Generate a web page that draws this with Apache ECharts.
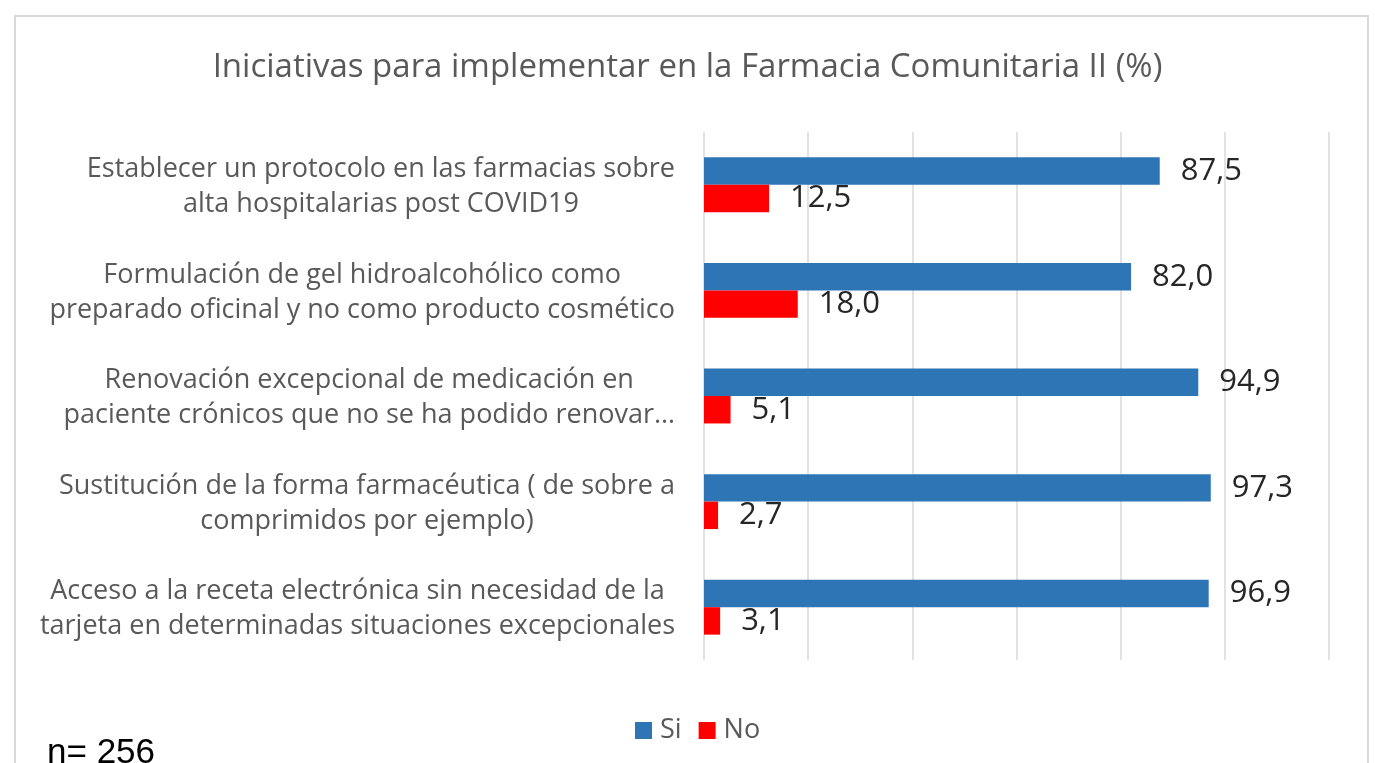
<!DOCTYPE html>
<html><head><meta charset="utf-8">
<script src="https://cdn.jsdelivr.net/npm/echarts@6/dist/echarts.min.js"></script>
<style>html,body{margin:0;padding:0;background:#fff;}#c{width:1375px;height:763px;}</style>
</head><body><div id="c"></div>
<script>
const categories = [
  "Establecer un protocolo en las farmacias sobre\nalta hospitalarias post COVID19",
  "Formulación de gel hidroalcohólico como\npreparado oficinal y no como producto cosmético",
  "Renovación excepcional de medicación en\npaciente crónicos que no se ha podido renovar…",
  "Sustitución de la forma farmacéutica ( de sobre a\ncomprimidos por ejemplo)",
  "Acceso a la receta electrónica sin necesidad de la\ntarjeta en determinadas situaciones excepcionales"
];
const siValues = [87.5, 82.0, 94.9, 97.3, 96.9];
const noValues = [12.5, 18.0, 5.1, 2.7, 3.1];
const seriesNames = ["Si", "No"];

const chart = echarts.init(document.getElementById('c'), null, {renderer: 'canvas'});
const fmt = p => p.value.toFixed(1).replace('.', ',');
const labelFont = '"Open Sans", "Noto Sans", sans-serif';
chart.setOption({
  animation: false,
  backgroundColor: '#fff',
  title: [{
    text: 'Iniciativas para implementar en la Farmacia Comunitaria II (%)',
    left: 'center', top: 46,
    textStyle: {fontFamily: labelFont, fontSize: 33, fontWeight: 'normal', color: '#595959'}
  }, {
    text: 'n= 256', left: 42, top: 731,
    textStyle: {fontFamily: '"Liberation Sans", Arial, sans-serif', fontSize: 35, fontWeight: 'normal', color: '#000'}
  }],
  graphic: [{
    type: 'rect', shape: {x: 15, y: 16, width: 1353, height: 800},
    style: {fill: 'none', stroke: '#d9d9d9', lineWidth: 2}, z: -1
  }],
  legend: {
    data: seriesNames, left: 630, top: 712, itemWidth: 17, itemHeight: 17, itemGap: 17,
    icon: 'rect',
    textStyle: {fontFamily: labelFont, fontSize: 27, color: '#595959', padding: [0,0,0,3]}
  },
  grid: {left: 704, right: 46, top: 132, bottom: 103, containLabel: false},
  xAxis: {
    type: 'value', min: 0, max: 120, interval: 20,
    axisLabel: {show: false}, axisLine: {show: false}, axisTick: {show: false},
    splitLine: {lineStyle: {color: '#d9d9d9', width: 1.5}}
  },
  yAxis: {
    type: 'category', data: categories, inverse: true,
    axisLine: {show: false}, axisTick: {show: false},
    axisLabel: {
      margin: 29, align: 'right', padding: [4, 0, 0, 0],
      formatter: v => v.split('\n').map(s => '{a|' + s + '}').join('\n'),
      rich: {a: {align: 'center', fontFamily: labelFont, fontSize: 27, lineHeight: 35, color: '#595959'}}
    }
  },
  series: [{
    name: seriesNames[0], type: 'bar', data: siValues, barCategoryGap: '48%', barGap: '0%',
    itemStyle: {color: '#2E75B6'},
    label: {show: true, position: 'right', distance: 21, formatter: fmt,
      fontFamily: labelFont, fontSize: 31, color: '#262626'}
  }, {
    name: seriesNames[1], type: 'bar', data: noValues, barCategoryGap: '48%', barGap: '0%',
    itemStyle: {color: '#FF0000'},
    label: {show: true, position: 'right', distance: 21, formatter: fmt,
      fontFamily: labelFont, fontSize: 31, color: '#262626'}
  }]
});
</script></body></html>
